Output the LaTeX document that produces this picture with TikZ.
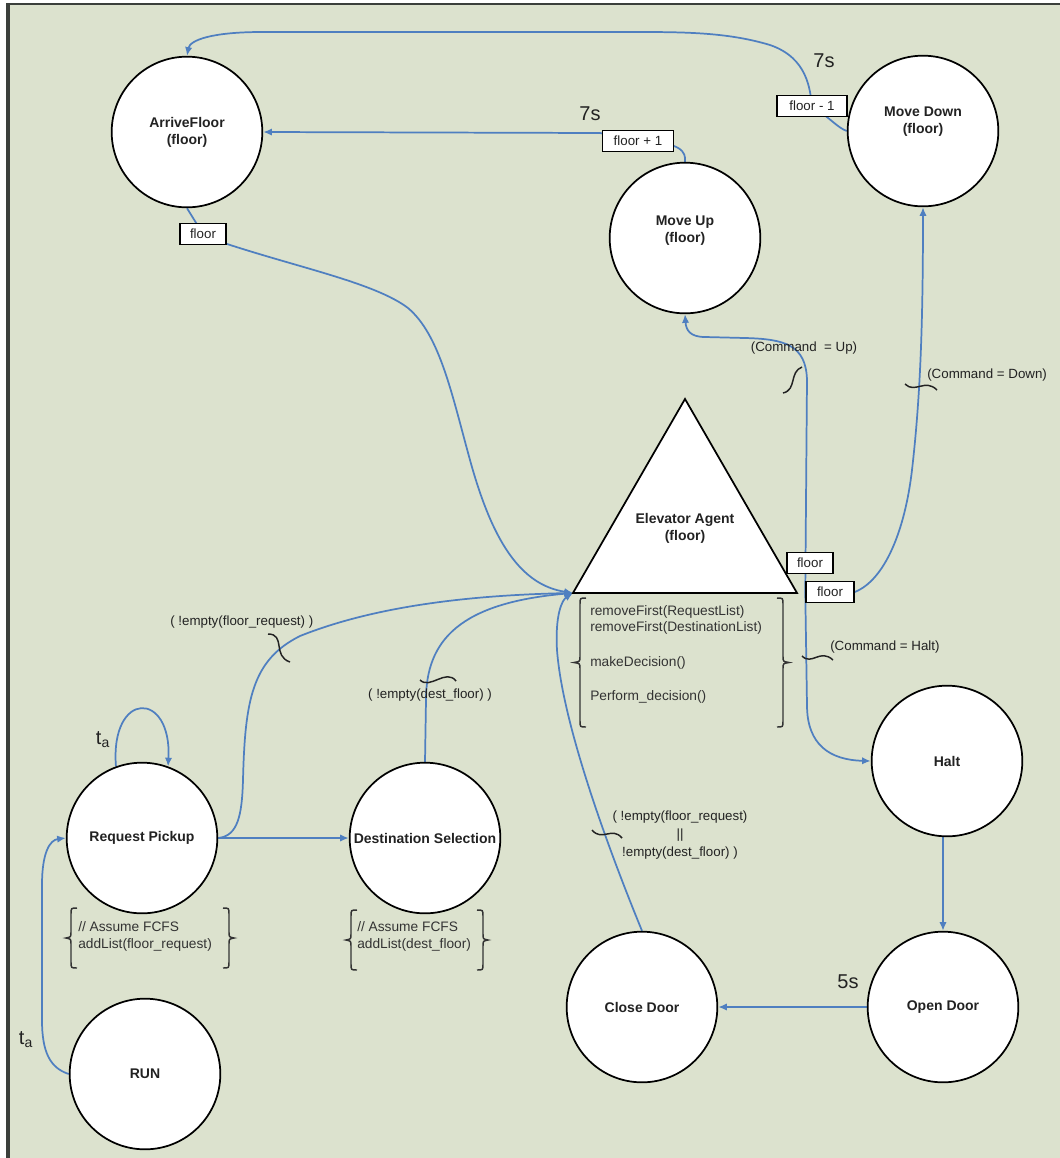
\documentclass[tikz,border=0pt]{standalone}
\usepackage{fontspec}
\setmainfont{Liberation Sans}
\usetikzlibrary{arrows.meta,shapes.geometric,backgrounds}

\definecolor{paper}{HTML}{DCE2CE}
\definecolor{frameline}{HTML}{3B3F3B}
\definecolor{flowblue}{HTML}{4F7FC0}
\definecolor{ink}{HTML}{222222}
\definecolor{note}{HTML}{333333}

% brace: #1 tip x, #2 bar x, #3 top y, #4 bottom y, #5 hook side (+1 opening, -1 closing)
\newcommand{\drawcurl}[5]{%
  \draw[curl] ({#2+6*(#5)},#3) .. controls (#2,#3) .. (#2,{#3+6})
    -- (#2,{(#3+#4)/2-6}) .. controls (#2,{(#3+#4)/2-1}) .. (#1,{(#3+#4)/2})
    .. controls (#2,{(#3+#4)/2+1}) .. (#2,{(#3+#4)/2+6})
    -- (#2,{#4-6}) .. controls (#2,#4) .. ({#2+6*(#5)},#4);}

\begin{document}
\begin{tikzpicture}[x=0.75pt,y=-0.75pt,
  state/.style={circle,draw=black,line width=1.3pt,fill=white,minimum size=113pt,
    inner sep=0pt,align=center,text=ink,font=\fontsize{10.5}{12.75}\selectfont\bfseries},
  statetext/.style={align=center,text=ink,inner sep=0pt,
    font=\fontsize{10.5}{12.75}\selectfont\bfseries},
  agentshape/.style={regular polygon,regular polygon sides=3,draw=black,line width=1.3pt,
    fill=white,minimum size=194pt,inner sep=0pt,outer sep=0pt},
  varbox/.style={draw=black,line width=1.1pt,fill=white,inner sep=0pt,
    minimum height=15.75pt,text=ink,font=\fontsize{10}{12}\selectfont},
  flow/.style={draw=flowblue,line width=1.3pt,-{Latex[length=6.5pt,width=5.5pt]}},
  cond/.style={text=ink,inner sep=0pt,font=\fontsize{10}{13.5}\selectfont},
  delay/.style={text=ink,inner sep=0pt,font=\fontsize{15}{18}\selectfont},
  code/.style={text=note,inner sep=0pt,anchor=west,font=\fontsize{10.3}{12}\selectfont},
  squig/.style={draw=ink,line width=1.1pt},
  curl/.style={draw=note,line width=1.1pt},
]
\useasboundingbox (0,0) rectangle (1060,1158);

% sheet and frame
\begin{scope}[on background layer]
  \fill[paper] (9,5) rectangle (1060,1158);
  \draw[frameline,line width=3pt] (7.5,3) -- (7.5,1158);
  \draw[frameline,line width=1.5pt] (6,3.5) -- (1060,3.5);
\end{scope}

% states
\node[state] (af) at (187,132) {ArriveFloor\\(floor)};
\node[state] (md) at (923,131) {};
\node[statetext] (mdtext) at (923,122) {Move Down\\(floor)};
\node[state] (mu) at (685,238) {};
\node[statetext] (mutext) at (685,231) {Move Up\\(floor)};
\node[agentshape] (agent) at (685,528.3) {};
\node[statetext] (agenttext) at (685,528) {Elevator Agent\\(floor)};
\node[state] (halt) at (947,761) {Halt};
\node[state] (od) at (943,1007) {Open Door};
\node[state] (cd) at (642,1007) {Close Door};
\node[state] (rp) at (142,838) {Request Pickup};
\node[state] (ds) at (425,838) {Destination Selection};
\node[state] (run) at (145,1074) {RUN};

% variable boxes
\node[varbox,minimum width=52.5pt] (fm1) at (812,106) {floor - 1};
\node[varbox,minimum width=53pt] (fp1) at (638,141) {floor + 1};
\node[varbox,minimum width=34.5pt] (ffl) at (203,234) {floor};
\node[varbox,minimum width=34.5pt] (fb1) at (810,563) {floor};
\node[varbox,minimum width=36pt] (fb2) at (830,592) {floor};

% transitions
\begin{scope}[on background layer]
  \draw[flow] (md.west) .. controls (838,128) and (830,118) .. (fm1.center)
    .. controls (810,90) and (808,58) .. (770,45) .. controls (730,33) and (690,32) .. (640,32)
    -- (262,32) .. controls (212,32) and (190,40) .. (af.north);
  \draw[flow] (mu.north) .. controls (686,152) and (682,142) .. (fp1.center)
    -- (600,133) -- (af.east);
  \draw[flow] (af.south) -- (ffl.center) -- (224,243)
    .. controls (300,268) and (375,283) .. (408,308)
    .. controls (440,335) and (452,395) .. (470,460)
    .. controls (492,540) and (520,585) .. (agent.corner 2);
  \draw[flow] (rp.east) .. controls (238,836) and (242,815) .. (243,780)
    .. controls (245,700) and (252,660) .. (300,636)
    .. controls (380,604) and (480,595) .. (agent.corner 2);
  \draw[flow] (ds.north) -- (426,700) .. controls (426,640) and (460,603) .. (agent.corner 2);
  \draw[flow] (cd.north) .. controls (615,865) and (563,730) .. (557,650)
    .. controls (555,615) and (562,600) .. (agent.corner 2);
  \draw[flow] (fb2.west) -- (807,380) .. controls (806,345) and (785,339) .. (745,338)
    -- (705,337) .. controls (690,337) and (686,330) .. (mu.south);
  \draw[flow] (fb2.west) -- (807,705) .. controls (807,745) and (830,760) .. (halt.west);
  \draw[flow] (fb2.east) .. controls (885,580) and (905,530) .. (912,470)
    .. controls (920,400) and (923,330) .. (md.south);
  \draw[flow] (od.north |- halt.south) -- (od.north);
  \draw[flow] (od.west) -- (cd.east);
  \draw[flow] (rp.east) -- (ds.west);
  \draw[flow] (rp.110) .. controls (110,690) and (172,690) .. (rp.70);
  \draw[flow] (run.west) .. controls (50,1068) and (42,1052) .. (42,1020)
    -- (42,885) .. controls (42,852) and (50,840) .. (rp.west);
\end{scope}

% delays and rates
\node[delay] (d1) at (824,61) {7s};
\node[delay] (d2) at (590,114) {7s};
\node[delay] (d3) at (848,982) {5s};
\node[delay] (t1) at (103,740) {t\textsubscript{a}};
\node[delay] (t2) at (26,1040) {t\textsubscript{a}};

% guard conditions
\node[cond] (cup) at (804,348) {(Command\ \ = Up)};
\node[cond,anchor=west] (cdown) at (927,375) {(Command = Down)};
\node[cond,anchor=west] (chalt) at (830,647) {(Command = Halt)};
\node[cond,anchor=west] (cfr) at (170,622) {( !empty(floor\_request) )};
\node[cond] (cdf) at (430,695) {( !empty(dest\_floor) )};
\node[cond,align=center] (cclose) at (680,835) {( !empty(floor\_request)\\||\\!empty(dest\_floor) )};

% guard markers
\draw[squig] (268,634) .. controls (286,634) and (272,656) .. (290,662);
\draw[squig] (420,680) .. controls (430,690) and (446,668) .. (456,681);
\draw[squig] (592,830) .. controls (602,842) and (612,826) .. (622,838);
\draw[squig] (783,393) .. controls (797,390) and (789,372) .. (802,367);
\draw[squig] (905,384) .. controls (915,394) and (925,378) .. (937,390);
\draw[squig] (802,656) .. controls (812,666) and (820,648) .. (833,660);

% actions
\node[code] (a1) at (590,612) {removeFirst(RequestList)};
\node[code] (a2) at (590,628) {removeFirst(DestinationList)};
\node[code] (a3) at (590,663) {makeDecision()};
\node[code] (a4) at (590,697) {Perform\_decision()};
\drawcurl{574}{580}{598}{727}{1}
\drawcurl{789}{783}{598}{727}{-1}

\node[code] (r1) at (78,927) {// Assume FCFS};
\node[code] (r2) at (78,945) {addList(floor\_request)};
\drawcurl{66}{71}{908}{968}{1}
\drawcurl{234}{229}{908}{968}{-1}

\node[code] (q1) at (357,927) {// Assume FCFS};
\node[code] (q2) at (357,945) {addList(dest\_floor)};
\drawcurl{346}{351}{910}{970}{1}
\drawcurl{488}{483}{910}{970}{-1}
\end{tikzpicture}
\end{document}
